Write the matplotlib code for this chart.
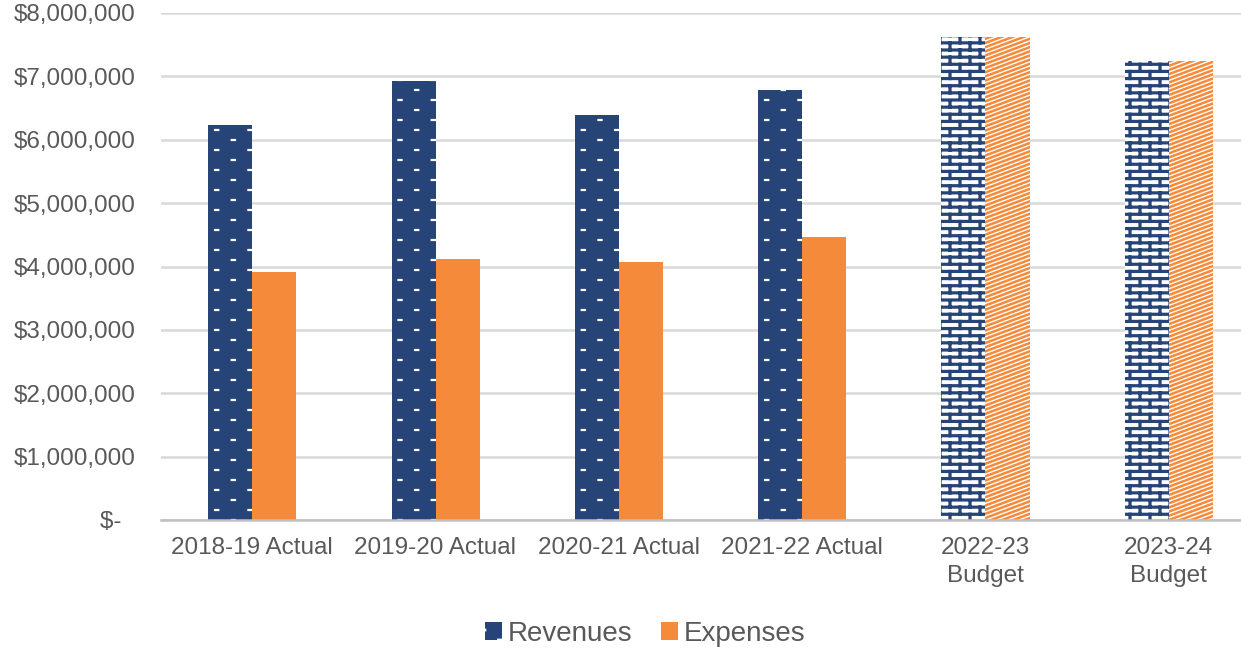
import matplotlib
matplotlib.use("Agg")
import matplotlib.pyplot as plt
import matplotlib.hatch as mhatch
from matplotlib.path import Path
import numpy as np
from matplotlib.ticker import FuncFormatter
import warnings
warnings.filterwarnings("ignore")

categories = ["2018-19 Actual", "2019-20 Actual", "2020-21 Actual", "2021-22 Actual",
              "2022-23\nBudget", "2023-24\nBudget"]
revenues = [6230000, 6920000, 6390000, 6780000, 7620000, 7240000]
expenses = [3910000, 4120000, 4070000, 4460000, 7620000, 7240000]
is_budget = [False, False, False, False, True, True]
yticks = [0, 1000000, 2000000, 3000000, 4000000, 5000000, 6000000, 7000000, 8000000]

NAVY = "#264478"
ORANGE = "#F58A3A"
TEXT = "#595959"


# ---- custom hatch patterns (style only) ----
class _SegHatch(mhatch.HatchPatternBase):
    char = None

    def __init__(self, hatch, density):
        self.segments = self.make() if (self.char and self.char in hatch) else []
        self.num_vertices = 2 * len(self.segments)

    def make(self):
        return []

    def set_vertices_and_codes(self, vertices, codes):
        for i, (p0, p1) in enumerate(self.segments):
            vertices[2 * i] = p0
            vertices[2 * i + 1] = p1
            codes[2 * i] = Path.MOVETO
            codes[2 * i + 1] = Path.LINETO


class DashHatch(_SegHatch):
    char = "d"

    def make(self):
        segs = []
        rows, cols, half = 10, 3, 0.016
        for r in range(rows + 1):
            y = r / rows
            off = 0.0 if r % 2 == 0 else 0.5 / cols
            for c in range(-1, cols + 1):
                xc = off + c / cols
                segs.append(((xc - half, y), (xc + half, y)))
        return segs


class BrickHatch(_SegHatch):
    char = "b"

    def make(self):
        segs = []
        rows, cols = 14, 5
        for r in range(rows + 1):
            y = r / rows
            segs.append(((0.0, y), (1.0, y)))
        for r in range(rows):
            y0, y1 = r / rows, (r + 1) / rows
            off = 0.0 if r % 2 == 0 else 0.5 / cols
            for c in range(-1, cols + 1):
                xc = off + c / cols
                segs.append(((xc, y0), (xc, y1)))
        return segs


class StripeHatch(_SegHatch):
    char = "s"

    def make(self):
        segs = []
        n = 24
        rise = 9 / 24
        for k in range(-n, n + 1):
            c = k / n
            segs.append(((0.0, c), (1.0, c + rise)))
        return segs


mhatch._hatch_types.extend([DashHatch, BrickHatch, StripeHatch])

plt.rcParams['font.family'] = ['Liberation Sans', 'DejaVu Sans']
plt.rcParams['hatch.linewidth'] = 2.0

fig = plt.figure(figsize=(12.41, 6.51), dpi=100)
ax = fig.add_axes([160.5 / 1241, 131 / 651, 1100 / 1241, 507 / 651])

x = np.arange(len(categories))
w = 0.24
rb = ax.bar(x - w / 2, revenues, w, color=NAVY, linewidth=0, zorder=3, label="Revenues")
eb = ax.bar(x + w / 2, expenses, w, color=ORANGE, linewidth=0, zorder=3, label="Expenses")


def hlw(p, v):
    if hasattr(p, "set_hatch_linewidth"):
        p.set_hatch_linewidth(v)


for p, b in zip(rb, is_budget):
    if b:
        p.set_facecolor("white")
        p.set_edgecolor(NAVY)
        p.set_hatch("b")
        hlw(p, 2.3)
    else:
        p.set_edgecolor("white")
        p.set_hatch("d")
        hlw(p, 1.6)
for p, b in zip(eb, is_budget):
    if b:
        p.set_facecolor("white")
        p.set_edgecolor(ORANGE)
        p.set_hatch("s")
        hlw(p, 1.8)

ax.set_xlim(-0.5, len(categories) - 0.5)
ax.set_ylim(0, 8000000)
ax.set_yticks(yticks)
ax.yaxis.set_major_formatter(FuncFormatter(lambda v, p: "$-  " if v == 0 else "${:,.0f}".format(v)))
ax.set_xticks(x)
ax.set_xticklabels(categories, linespacing=1.4)
ax.tick_params(axis='both', length=0, labelsize=17.5, labelcolor=TEXT)
ax.tick_params(axis='y', pad=18)
ax.tick_params(axis='x', pad=12)
ax.grid(axis='y', color="#D9D9D9", linewidth=1.8, zorder=0)
for s in ["top", "right", "left"]:
    ax.spines[s].set_visible(False)
ax.spines["bottom"].set_color("#BFBFBF")
ax.spines["bottom"].set_linewidth(1.8)
ax.spines["bottom"].set_zorder(4)

leg = fig.legend(handles=[rb[0], eb[0]], labels=["Revenues", "Expenses"], loc="center",
                 bbox_to_anchor=(645 / 1241, 1 - 634 / 651), ncol=2, frameon=False,
                 fontsize=20, handlelength=0.6, handleheight=0.6, handletextpad=0.2,
                 columnspacing=1.05, labelcolor=TEXT)

fig.savefig("out.png", dpi=100)
